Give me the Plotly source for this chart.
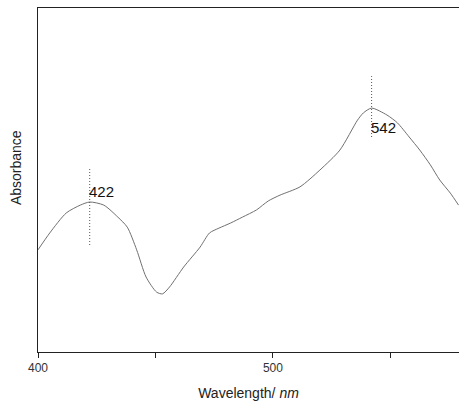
import plotly.graph_objects as go

# UV-vis absorption spectrum
wavelength = [400, 405, 412, 418, 422, 428, 434, 438, 442, 446, 450.5, 453, 456,
              462, 469, 473, 477, 482, 487, 493, 498, 503, 511.5, 520, 528.5,
              536, 538.5, 542, 548.5, 553, 558, 562.5, 567, 571, 575.5, 579]
absorbance = [0.297, 0.346, 0.404, 0.427, 0.436, 0.427, 0.392, 0.363, 0.297, 0.218,
              0.174, 0.169, 0.189, 0.247, 0.305, 0.346, 0.360, 0.375, 0.392, 0.413,
              0.439, 0.456, 0.480, 0.529, 0.587, 0.674, 0.695, 0.709, 0.689, 0.666,
              0.625, 0.587, 0.544, 0.500, 0.462, 0.427]

# band maxima with vertical marker extents and label heights
peak_nm = [422, 542]
peak_labels = ["422", "542"]
marker_low = [0.311, 0.625]
marker_high = [0.535, 0.802]
label_y = [0.467, 0.654]

tick_vals = [400, 450, 500, 550]
tick_text = ["400", "", "500", ""]

FONT = "Liberation Sans, Arial, sans-serif"

fig = go.Figure()
fig.add_trace(go.Scatter(
    x=wavelength, y=absorbance, mode="lines",
    line=dict(color="#707070", width=1, shape="spline", smoothing=0.7),
    showlegend=False, hoverinfo="skip",
))

for nm, lo, hi in zip(peak_nm, marker_low, marker_high):
    fig.add_trace(go.Scatter(
        x=[nm, nm], y=[lo, hi], mode="lines",
        line=dict(color="#555555", width=1, dash="1px,2px"),
        showlegend=False, hoverinfo="skip",
    ))

for nm, txt, ly in zip(peak_nm, peak_labels, label_y):
    fig.add_annotation(
        x=nm, y=ly, xref="x", yref="y", text=txt, showarrow=False,
        xanchor="left", yanchor="middle", xshift=-3,
        font=dict(family=FONT, size=15, color="#111111"),
    )

# vertical axis title
fig.add_annotation(
    x=-0.052, y=0.535, xref="paper", yref="paper", text="Absorbance",
    textangle=-90, showarrow=False, xanchor="center", yanchor="middle",
    font=dict(family=FONT, size=14, color="#222222"),
)

fig.update_layout(
    width=459, height=403,
    margin=dict(l=38, r=0, t=8, b=51),
    paper_bgcolor="white", plot_bgcolor="white",
    font=dict(family=FONT),
    xaxis=dict(
        range=[400, 579.2], tickvals=tick_vals, ticktext=tick_text,
        ticks="outside", ticklen=5, tickwidth=1, tickcolor="#222222",
        showline=True, linecolor="#222222", linewidth=1, mirror=True,
        showgrid=False, zeroline=False,
        tickfont=dict(family=FONT, size=12, color="#333333"),
        title=dict(text="Wavelength/ <i>nm</i>", standoff=13,
                   font=dict(family=FONT, size=14, color="#222222")),
    ),
    yaxis=dict(
        range=[0, 1], showticklabels=False, ticks="",
        showline=True, linecolor="#222222", linewidth=1, mirror=False,
        showgrid=False, zeroline=False,
    ),
)

fig.write_html("out.html")
